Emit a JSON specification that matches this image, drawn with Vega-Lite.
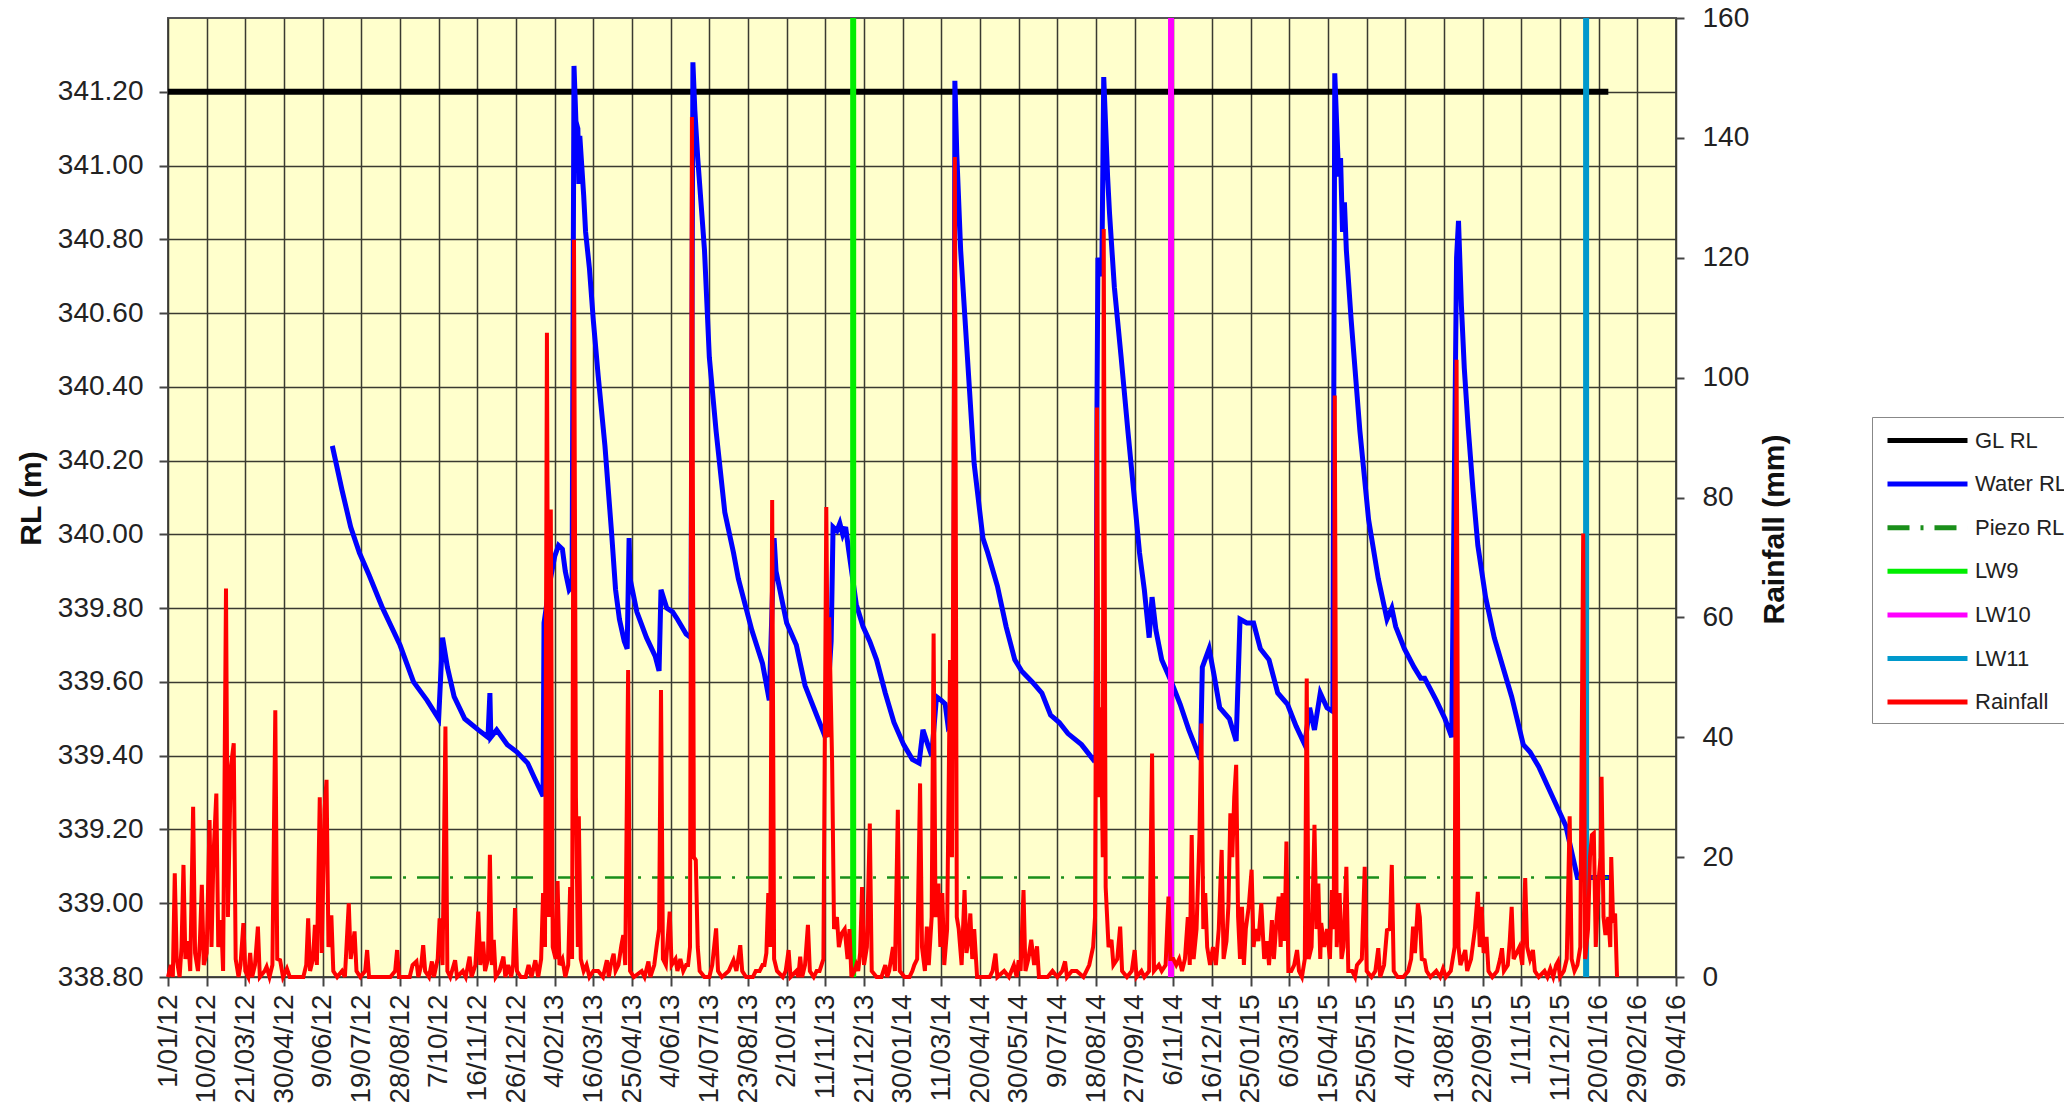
{
  "$schema": "https://vega.github.io/schema/vega-lite/v6.json",
  "width": 1508,
  "height": 959,
  "autosize": {"type": "none"},
  "padding": {"left": 168, "top": 18, "right": 388, "bottom": 135},
  "background": "#FFFFFF",
  "config": {
    "view": {"fill": "#FFFFCC", "stroke": "#555555", "strokeWidth": 2},
    "font": "Liberation Sans",
    "axis": {
      "labelFont": "Liberation Sans", "labelFontSize": 28, "labelColor": "#222222",
      "titleFont": "Liberation Sans", "titleFontSize": 30, "titleFontWeight": "bold", "titleColor": "#111111",
      "tickColor": "#444444", "tickWidth": 2, "domainColor": "#555555", "domainWidth": 2,
      "gridColor": "#3a3a30", "gridWidth": 1.5, "gridOpacity": 1
    }
  },
  "layer": [
    {
      "layer": [
        {
          "data": {"values": [{"day": 0, "rl": 341.2}, {"day": 1490, "rl": 341.2}]},
          "mark": {"type": "line", "strokeWidth": 6},
          "encoding": {
            "x": {"field": "day", "type": "quantitative", "title": null,
              "scale": {"domain": [0, 1560], "nice": false, "zero": false},
              "axis": {"values": [0,40,80,120,160,200,240,280,320,360,400,440,480,520,560,600,640,680,720,760,800,840,880,920,960,1000,1040,1080,1120,1160,1200,1240,1280,1320,1360,1400,1440,1480,1520,1560],
                "tickCount": 60,
                "labelExpr": "timeFormat(datetime(2012, 0, 1 + datum.value), '%-d/%m/%y')",
                "labelAngle": 270, "labelOverlap": false, "labelFlush": false, "labelBound": false,
                "grid": true, "tickSize": 9, "labelPadding": 8, "domain": false, "title": null}},
            "y": {"field": "rl", "type": "quantitative", "title": "RL (m)",
              "scale": {"domain": [338.8, 341.4], "nice": false, "zero": false},
              "axis": {"values": [338.8,339,339.2,339.4,339.6,339.8,340,340.2,340.4,340.6,340.8,341,341.2],
                "tickCount": 30,
                "format": ".2f", "grid": true, "tickSize": 9, "labelPadding": 16, "domain": false,
                "title": "RL (m)", "titleAngle": 270, "titleX": -137, "titleY": 480, "titleAlign": "center", "titleBaseline": "middle"}},
            "color": {"datum": "GL RL", "type": "nominal",
              "scale": {"domain": ["GL RL","Water RL","Piezo RL","LW9","LW10","LW11","Rainfall"], "range": ["#000000","#0000FF","#1a8f1a","#00EE00","#FF00FF","#0099CC","#FF0000"]},
              "legend": {"title": null, "orient": "none", "legendX": 1704, "legendY": 399, "direction": "vertical", "fillColor": "#FFFFFF", "strokeColor": "#888888", "padding": 9, "symbolType": "M-0.667,0H6", "symbolSize": 576, "symbolStrokeWidth": 5, "labelFont": "Liberation Sans", "labelFontSize": 22, "labelColor": "#222222", "labelOffset": 65, "rowPadding": 17.6}}
          }
        },
        {
          "data": {"values": [
            {"day":170,"rl":340.24},{"day":180,"rl":340.12},{"day":189,"rl":340.02},{"day":198,"rl":339.95},{"day":208,"rl":339.89},{"day":222,"rl":339.80},{"day":240,"rl":339.70},{"day":254,"rl":339.60},{"day":268,"rl":339.55},{"day":280,"rl":339.50},{"day":284,"rl":339.72},{"day":289,"rl":339.64},{"day":296,"rl":339.56},{"day":307,"rl":339.50},{"day":321,"rl":339.47},{"day":331,"rl":339.45},{"day":333,"rl":339.57},{"day":334,"rl":339.45},{"day":340,"rl":339.47},{"day":351,"rl":339.43},{"day":361,"rl":339.41},{"day":372,"rl":339.38},{"day":379,"rl":339.34},{"day":388,"rl":339.29},{"day":389,"rl":339.76},{"day":395,"rl":339.87},{"day":400,"rl":339.94},{"day":404,"rl":339.97},{"day":408,"rl":339.96},{"day":411,"rl":339.90},{"day":415,"rl":339.85},{"day":418,"rl":339.86},{"day":420,"rl":341.27},{"day":422,"rl":341.12},{"day":424,"rl":341.10},{"day":425,"rl":340.95},{"day":426,"rl":341.08},{"day":428,"rl":341.00},{"day":430,"rl":340.92},{"day":432,"rl":340.82},{"day":436,"rl":340.72},{"day":440,"rl":340.58},{"day":445,"rl":340.43},{"day":452,"rl":340.24},{"day":459,"rl":340.00},{"day":463,"rl":339.85},{"day":467,"rl":339.77},{"day":472,"rl":339.71},{"day":475,"rl":339.69},{"day":477,"rl":339.99},{"day":478,"rl":339.88},{"day":485,"rl":339.79},{"day":495,"rl":339.72},{"day":504,"rl":339.67},{"day":508,"rl":339.63},{"day":510,"rl":339.85},{"day":516,"rl":339.80},{"day":522,"rl":339.79},{"day":527,"rl":339.77},{"day":536,"rl":339.73},{"day":541,"rl":339.72},{"day":543,"rl":341.28},{"day":545,"rl":341.15},{"day":548,"rl":341.02},{"day":555,"rl":340.77},{"day":560,"rl":340.48},{"day":567,"rl":340.28},{"day":576,"rl":340.06},{"day":585,"rl":339.95},{"day":590,"rl":339.88},{"day":604,"rl":339.74},{"day":615,"rl":339.65},{"day":622,"rl":339.55},{"day":627,"rl":339.99},{"day":629,"rl":339.90},{"day":640,"rl":339.76},{"day":650,"rl":339.70},{"day":659,"rl":339.59},{"day":668,"rl":339.53},{"day":677,"rl":339.47},{"day":680,"rl":339.45},{"day":686,"rl":339.71},{"day":688,"rl":340.02},{"day":692,"rl":340.01},{"day":695,"rl":340.03},{"day":698,"rl":340.00},{"day":701,"rl":340.02},{"day":704,"rl":339.96},{"day":712,"rl":339.81},{"day":719,"rl":339.75},{"day":726,"rl":339.71},{"day":733,"rl":339.66},{"day":742,"rl":339.57},{"day":751,"rl":339.49},{"day":761,"rl":339.43},{"day":770,"rl":339.39},{"day":777,"rl":339.38},{"day":781,"rl":339.47},{"day":786,"rl":339.43},{"day":790,"rl":339.40},{"day":795,"rl":339.56},{"day":800,"rl":339.55},{"day":804,"rl":339.54},{"day":807,"rl":339.48},{"day":813,"rl":339.50},{"day":814,"rl":341.23},{"day":816,"rl":341.03},{"day":820,"rl":340.77},{"day":827,"rl":340.48},{"day":834,"rl":340.19},{"day":843,"rl":339.99},{"day":848,"rl":339.95},{"day":858,"rl":339.86},{"day":867,"rl":339.75},{"day":876,"rl":339.66},{"day":883,"rl":339.63},{"day":894,"rl":339.60},{"day":904,"rl":339.57},{"day":913,"rl":339.51},{"day":922,"rl":339.49},{"day":931,"rl":339.46},{"day":945,"rl":339.43},{"day":957,"rl":339.39},{"day":960,"rl":339.40},{"day":961,"rl":340.34},{"day":962,"rl":340.75},{"day":966,"rl":340.70},{"day":968,"rl":341.24},{"day":972,"rl":340.97},{"day":974,"rl":340.87},{"day":979,"rl":340.67},{"day":986,"rl":340.48},{"day":993,"rl":340.28},{"day":1000,"rl":340.09},{"day":1005,"rl":339.95},{"day":1010,"rl":339.85},{"day":1015,"rl":339.72},{"day":1018,"rl":339.83},{"day":1022,"rl":339.74},{"day":1028,"rl":339.66},{"day":1038,"rl":339.60},{"day":1047,"rl":339.54},{"day":1056,"rl":339.47},{"day":1068,"rl":339.39},{"day":1070,"rl":339.64},{"day":1077,"rl":339.69},{"day":1082,"rl":339.62},{"day":1088,"rl":339.53},{"day":1098,"rl":339.50},{"day":1105,"rl":339.44},{"day":1109,"rl":339.77},{"day":1116,"rl":339.76},{"day":1123,"rl":339.76},{"day":1130,"rl":339.69},{"day":1139,"rl":339.66},{"day":1148,"rl":339.57},{"day":1158,"rl":339.54},{"day":1167,"rl":339.48},{"day":1176,"rl":339.43},{"day":1181,"rl":339.53},{"day":1186,"rl":339.47},{"day":1192,"rl":339.57},{"day":1199,"rl":339.53},{"day":1205,"rl":339.52},{"day":1206,"rl":340.37},{"day":1207,"rl":341.25},{"day":1211,"rl":340.97},{"day":1213,"rl":341.02},{"day":1215,"rl":340.82},{"day":1217,"rl":340.90},{"day":1219,"rl":340.77},{"day":1224,"rl":340.58},{"day":1233,"rl":340.28},{"day":1242,"rl":340.04},{"day":1252,"rl":339.88},{"day":1261,"rl":339.77},{"day":1266,"rl":339.80},{"day":1270,"rl":339.75},{"day":1279,"rl":339.69},{"day":1289,"rl":339.64},{"day":1296,"rl":339.61},{"day":1300,"rl":339.61},{"day":1312,"rl":339.55},{"day":1321,"rl":339.50},{"day":1328,"rl":339.45},{"day":1333,"rl":340.75},{"day":1335,"rl":340.85},{"day":1338,"rl":340.62},{"day":1341,"rl":340.45},{"day":1345,"rl":340.29},{"day":1350,"rl":340.12},{"day":1355,"rl":339.97},{"day":1363,"rl":339.83},{"day":1372,"rl":339.72},{"day":1381,"rl":339.64},{"day":1390,"rl":339.56},{"day":1402,"rl":339.43},{"day":1409,"rl":339.41},{"day":1418,"rl":339.37},{"day":1432,"rl":339.29},{"day":1446,"rl":339.21},{"day":1458,"rl":339.07},{"day":1475,"rl":339.07},{"day":1494,"rl":339.07}
          ]},
          "mark": {"type": "line", "strokeWidth": 5},
          "encoding": {
            "x": {"field": "day", "type": "quantitative", "title": null, "scale": {"domain": [0, 1560], "nice": false, "zero": false}},
            "y": {"field": "rl", "type": "quantitative", "title": "RL (m)", "scale": {"domain": [338.8, 341.4], "nice": false, "zero": false}},
            "color": {"datum": "Water RL", "type": "nominal",
              "scale": {"domain": ["GL RL","Water RL","Piezo RL","LW9","LW10","LW11","Rainfall"], "range": ["#000000","#0000FF","#1a8f1a","#00EE00","#FF00FF","#0099CC","#FF0000"]}}
          }
        },
        {
          "data": {"values": [{"day": 209, "rl": 339.07}, {"day": 1490, "rl": 339.07}]},
          "mark": {"type": "line", "strokeWidth": 2.5},
          "encoding": {
            "x": {"field": "day", "type": "quantitative", "title": null, "scale": {"domain": [0, 1560], "nice": false, "zero": false}},
            "y": {"field": "rl", "type": "quantitative", "title": "RL (m)", "scale": {"domain": [338.8, 341.4], "nice": false, "zero": false}},
            "color": {"datum": "Piezo RL", "type": "nominal",
              "scale": {"domain": ["GL RL","Water RL","Piezo RL","LW9","LW10","LW11","Rainfall"], "range": ["#000000","#0000FF","#1a8f1a","#00EE00","#FF00FF","#0099CC","#FF0000"]}},
            "strokeDash": {"datum": "Piezo RL", "type": "nominal",
              "scale": {"domain": ["GL RL","Water RL","Piezo RL","LW9","LW10","LW11","Rainfall"], "range": [[1,0],[1,0],[22,11,3,11],[1,0],[1,0],[1,0],[1,0]]},
              "legend": {"title": null, "orient": "none", "legendX": 1704, "legendY": 399, "direction": "vertical", "fillColor": "#FFFFFF", "strokeColor": "#888888", "padding": 9, "symbolType": "M-0.667,0H6", "symbolSize": 576, "symbolStrokeWidth": 5, "labelFont": "Liberation Sans", "labelFontSize": 22, "labelColor": "#222222", "labelOffset": 65, "rowPadding": 17.6}}
          }
        },
        {
          "data": {"values": [{"day": 708.8}]},
          "mark": {"type": "rule", "strokeWidth": 6},
          "encoding": {
            "x": {"field": "day", "type": "quantitative", "title": null, "scale": {"domain": [0, 1560], "nice": false, "zero": false}},
            "color": {"datum": "LW9", "type": "nominal",
              "scale": {"domain": ["GL RL","Water RL","Piezo RL","LW9","LW10","LW11","Rainfall"], "range": ["#000000","#0000FF","#1a8f1a","#00EE00","#FF00FF","#0099CC","#FF0000"]}}
          }
        },
        {
          "data": {"values": [{"day": 1037.6}]},
          "mark": {"type": "rule", "strokeWidth": 6},
          "encoding": {
            "x": {"field": "day", "type": "quantitative", "title": null, "scale": {"domain": [0, 1560], "nice": false, "zero": false}},
            "color": {"datum": "LW10", "type": "nominal",
              "scale": {"domain": ["GL RL","Water RL","Piezo RL","LW9","LW10","LW11","Rainfall"], "range": ["#000000","#0000FF","#1a8f1a","#00EE00","#FF00FF","#0099CC","#FF0000"]}}
          }
        },
        {
          "data": {"values": [{"day": 1467}]},
          "mark": {"type": "rule", "strokeWidth": 6},
          "encoding": {
            "x": {"field": "day", "type": "quantitative", "title": null, "scale": {"domain": [0, 1560], "nice": false, "zero": false}},
            "color": {"datum": "LW11", "type": "nominal",
              "scale": {"domain": ["GL RL","Water RL","Piezo RL","LW9","LW10","LW11","Rainfall"], "range": ["#000000","#0000FF","#1a8f1a","#00EE00","#FF00FF","#0099CC","#FF0000"]}}
          }
        }
      ]
    },
    {
      "data": {"values": [
        {"day":0,"mm":0},{"day":3,"mm":2},{"day":5,"mm":0},{"day":7,"mm":17.3},{"day":9,"mm":3},{"day":12,"mm":0},{"day":14,"mm":5},{"day":16,"mm":18.7},{"day":18,"mm":3},{"day":21,"mm":6},{"day":23,"mm":1},{"day":26,"mm":28.4},{"day":28,"mm":4},{"day":31,"mm":1},{"day":33,"mm":6},{"day":35,"mm":15.4},{"day":37,"mm":2},{"day":40,"mm":4},{"day":43,"mm":26.2},{"day":45,"mm":5},{"day":47,"mm":20},{"day":50,"mm":30.6},{"day":52,"mm":5},{"day":55,"mm":9.5},{"day":57,"mm":1},{"day":60,"mm":64.8},{"day":62,"mm":10},{"day":65,"mm":35},{"day":68,"mm":39},{"day":70,"mm":3},{"day":73,"mm":0},{"day":75,"mm":2},{"day":78,"mm":9},{"day":80,"mm":1},{"day":83,"mm":0},{"day":85,"mm":4},{"day":87,"mm":0},{"day":90,"mm":2},{"day":93,"mm":8.4},{"day":95,"mm":0},{"day":100,"mm":1},{"day":102,"mm":1.7},{"day":105,"mm":0},{"day":108,"mm":2},{"day":111,"mm":44.5},{"day":113,"mm":3},{"day":116,"mm":2.8},{"day":119,"mm":0},{"day":123,"mm":1.4},{"day":126,"mm":0},{"day":140,"mm":0},{"day":143,"mm":2},{"day":145,"mm":9.8},{"day":147,"mm":1},{"day":150,"mm":3},{"day":152,"mm":8.7},{"day":154,"mm":2},{"day":157,"mm":30},{"day":159,"mm":4},{"day":162,"mm":28},{"day":164,"mm":32.9},{"day":166,"mm":5},{"day":169,"mm":10.3},{"day":171,"mm":1},{"day":175,"mm":0},{"day":180,"mm":1},{"day":183,"mm":0},{"day":187,"mm":12.3},{"day":189,"mm":3},{"day":193,"mm":7.6},{"day":195,"mm":1},{"day":199,"mm":0},{"day":204,"mm":1},{"day":206,"mm":4.5},{"day":208,"mm":0},{"day":215,"mm":0},{"day":230,"mm":0},{"day":235,"mm":1},{"day":237,"mm":4.5},{"day":239,"mm":0},{"day":250,"mm":0},{"day":253,"mm":2},{"day":257,"mm":2.6},{"day":259,"mm":0},{"day":262,"mm":2},{"day":264,"mm":5.3},{"day":266,"mm":1},{"day":270,"mm":0},{"day":273,"mm":2.6},{"day":275,"mm":0},{"day":279,"mm":3},{"day":281,"mm":9.8},{"day":284,"mm":2},{"day":287,"mm":41.8},{"day":289,"mm":1},{"day":292,"mm":0},{"day":297,"mm":2.8},{"day":299,"mm":0},{"day":305,"mm":1},{"day":308,"mm":0},{"day":312,"mm":3.4},{"day":314,"mm":0},{"day":318,"mm":2},{"day":321,"mm":10.9},{"day":323,"mm":2},{"day":326,"mm":5.9},{"day":328,"mm":1},{"day":331,"mm":3},{"day":333,"mm":20.4},{"day":335,"mm":2},{"day":337,"mm":6.2},{"day":339,"mm":0},{"day":343,"mm":1},{"day":347,"mm":3.4},{"day":349,"mm":0},{"day":352,"mm":2},{"day":355,"mm":0},{"day":357,"mm":2},{"day":359,"mm":11.5},{"day":361,"mm":1},{"day":365,"mm":0},{"day":370,"mm":0},{"day":373,"mm":2},{"day":376,"mm":0},{"day":380,"mm":2.8},{"day":383,"mm":0},{"day":386,"mm":3},{"day":388,"mm":14},{"day":390,"mm":5},{"day":392,"mm":107.5},{"day":394,"mm":10},{"day":396,"mm":78},{"day":398,"mm":5},{"day":401,"mm":3},{"day":403,"mm":16},{"day":405,"mm":2},{"day":408,"mm":3},{"day":411,"mm":0},{"day":414,"mm":2},{"day":416,"mm":15},{"day":418,"mm":3},{"day":420,"mm":123},{"day":422,"mm":30},{"day":424,"mm":5},{"day":425,"mm":26.8},{"day":427,"mm":3},{"day":430,"mm":1},{"day":433,"mm":2},{"day":436,"mm":0},{"day":440,"mm":1},{"day":445,"mm":1},{"day":450,"mm":0},{"day":454,"mm":2.8},{"day":456,"mm":0},{"day":458,"mm":2},{"day":461,"mm":3.9},{"day":463,"mm":1},{"day":466,"mm":2},{"day":469,"mm":5.3},{"day":471,"mm":7},{"day":473,"mm":2},{"day":476,"mm":51.2},{"day":478,"mm":1},{"day":482,"mm":0},{"day":490,"mm":1},{"day":493,"mm":0},{"day":497,"mm":2.6},{"day":499,"mm":0},{"day":503,"mm":2},{"day":506,"mm":5.8},{"day":508,"mm":8},{"day":510,"mm":47.9},{"day":512,"mm":3},{"day":515,"mm":2},{"day":519,"mm":10.9},{"day":521,"mm":2},{"day":525,"mm":3},{"day":527,"mm":1},{"day":530,"mm":3},{"day":533,"mm":1},{"day":536,"mm":2},{"day":538,"mm":2},{"day":540,"mm":5},{"day":542,"mm":143.5},{"day":544,"mm":20},{"day":546,"mm":19.5},{"day":548,"mm":5},{"day":550,"mm":1},{"day":555,"mm":0},{"day":560,"mm":0},{"day":563,"mm":2},{"day":567,"mm":8.1},{"day":569,"mm":1},{"day":573,"mm":0},{"day":580,"mm":1},{"day":585,"mm":2.8},{"day":588,"mm":1},{"day":592,"mm":5.3},{"day":594,"mm":1},{"day":598,"mm":0},{"day":605,"mm":0},{"day":608,"mm":1},{"day":612,"mm":1},{"day":615,"mm":2},{"day":617,"mm":2},{"day":619,"mm":4},{"day":621,"mm":14},{"day":623,"mm":5},{"day":625,"mm":79.6},{"day":627,"mm":3},{"day":630,"mm":1},{"day":636,"mm":0},{"day":639,"mm":1},{"day":642,"mm":4.5},{"day":644,"mm":0},{"day":650,"mm":1},{"day":652,"mm":0},{"day":654,"mm":3.4},{"day":656,"mm":0},{"day":659,"mm":2},{"day":662,"mm":8.7},{"day":664,"mm":1},{"day":668,"mm":0},{"day":671,"mm":1},{"day":674,"mm":1},{"day":676,"mm":2},{"day":678,"mm":3},{"day":681,"mm":78.4},{"day":683,"mm":40},{"day":684,"mm":60},{"day":687,"mm":36},{"day":689,"mm":8},{"day":692,"mm":10},{"day":694,"mm":5},{"day":697,"mm":7.3},{"day":700,"mm":8},{"day":703,"mm":3},{"day":705,"mm":8},{"day":707,"mm":0},{"day":710,"mm":1},{"day":712,"mm":2},{"day":714,"mm":1},{"day":716,"mm":4},{"day":718,"mm":15},{"day":720,"mm":2},{"day":723,"mm":5},{"day":726,"mm":25.6},{"day":728,"mm":1},{"day":733,"mm":0},{"day":738,"mm":0},{"day":742,"mm":2},{"day":744,"mm":0},{"day":746,"mm":1},{"day":750,"mm":5},{"day":752,"mm":1},{"day":755,"mm":27.9},{"day":757,"mm":1},{"day":762,"mm":0},{"day":767,"mm":0},{"day":770,"mm":1},{"day":772,"mm":2},{"day":775,"mm":3},{"day":778,"mm":32.3},{"day":780,"mm":5},{"day":783,"mm":1},{"day":785,"mm":8.4},{"day":787,"mm":2},{"day":790,"mm":10},{"day":792,"mm":57.3},{"day":794,"mm":10},{"day":797,"mm":15.6},{"day":799,"mm":5},{"day":801,"mm":14},{"day":803,"mm":2},{"day":806,"mm":8},{"day":809,"mm":52.9},{"day":811,"mm":20},{"day":814,"mm":136.8},{"day":816,"mm":10},{"day":818,"mm":8},{"day":821,"mm":2},{"day":824,"mm":14.5},{"day":826,"mm":4},{"day":828,"mm":6},{"day":830,"mm":10.6},{"day":832,"mm":3},{"day":834,"mm":8},{"day":837,"mm":0},{"day":845,"mm":0},{"day":850,"mm":0},{"day":853,"mm":1},{"day":856,"mm":3.9},{"day":858,"mm":0},{"day":865,"mm":1},{"day":870,"mm":0},{"day":875,"mm":2},{"day":878,"mm":0},{"day":880,"mm":2.8},{"day":882,"mm":1},{"day":885,"mm":14.5},{"day":887,"mm":1},{"day":890,"mm":3},{"day":893,"mm":6.2},{"day":896,"mm":2},{"day":899,"mm":5.1},{"day":901,"mm":0},{"day":910,"mm":0},{"day":915,"mm":1},{"day":920,"mm":0},{"day":925,"mm":1},{"day":928,"mm":2.6},{"day":930,"mm":0},{"day":935,"mm":1},{"day":940,"mm":1},{"day":947,"mm":0},{"day":950,"mm":1},{"day":953,"mm":2},{"day":957,"mm":5},{"day":959,"mm":10},{"day":961,"mm":95},{"day":963,"mm":30},{"day":965,"mm":45},{"day":967,"mm":20},{"day":968,"mm":124.8},{"day":970,"mm":15},{"day":973,"mm":5},{"day":976,"mm":6.2},{"day":978,"mm":2},{"day":982,"mm":3},{"day":985,"mm":8.4},{"day":987,"mm":1},{"day":992,"mm":0},{"day":997,"mm":1},{"day":1000,"mm":4.5},{"day":1002,"mm":0},{"day":1007,"mm":1},{"day":1010,"mm":0},{"day":1015,"mm":1},{"day":1018,"mm":37.3},{"day":1020,"mm":1},{"day":1025,"mm":2},{"day":1028,"mm":1},{"day":1032,"mm":2},{"day":1035,"mm":13.4},{"day":1037,"mm":3},{"day":1040,"mm":3},{"day":1043,"mm":2},{"day":1046,"mm":3},{"day":1049,"mm":1},{"day":1052,"mm":3},{"day":1055,"mm":10},{"day":1057,"mm":2},{"day":1059,"mm":23.7},{"day":1061,"mm":3},{"day":1064,"mm":8},{"day":1067,"mm":23.4},{"day":1069,"mm":42.3},{"day":1071,"mm":8},{"day":1073,"mm":14},{"day":1075,"mm":5},{"day":1078,"mm":2},{"day":1081,"mm":5},{"day":1084,"mm":2},{"day":1087,"mm":8},{"day":1090,"mm":21.2},{"day":1092,"mm":3},{"day":1095,"mm":6},{"day":1097,"mm":12},{"day":1099,"mm":27.3},{"day":1101,"mm":20},{"day":1103,"mm":30},{"day":1105,"mm":35.4},{"day":1107,"mm":10},{"day":1109,"mm":3},{"day":1111,"mm":11.7},{"day":1113,"mm":2},{"day":1115,"mm":8},{"day":1118,"mm":11.7},{"day":1121,"mm":17.9},{"day":1123,"mm":5},{"day":1125,"mm":8},{"day":1128,"mm":6},{"day":1131,"mm":12.3},{"day":1134,"mm":3},{"day":1137,"mm":6},{"day":1139,"mm":2},{"day":1142,"mm":9.5},{"day":1144,"mm":3},{"day":1147,"mm":10},{"day":1149,"mm":13.4},{"day":1151,"mm":5},{"day":1153,"mm":14},{"day":1155,"mm":6},{"day":1157,"mm":22.6},{"day":1159,"mm":1},{"day":1162,"mm":1},{"day":1165,"mm":2},{"day":1168,"mm":4.5},{"day":1170,"mm":1},{"day":1173,"mm":0},{"day":1176,"mm":3},{"day":1178,"mm":49.8},{"day":1180,"mm":3},{"day":1183,"mm":5},{"day":1186,"mm":25.4},{"day":1188,"mm":8},{"day":1190,"mm":15.6},{"day":1192,"mm":3},{"day":1193,"mm":9},{"day":1196,"mm":5},{"day":1199,"mm":8},{"day":1202,"mm":3},{"day":1204,"mm":14.5},{"day":1206,"mm":8},{"day":1207,"mm":97},{"day":1209,"mm":5},{"day":1212,"mm":14},{"day":1214,"mm":3},{"day":1216,"mm":5},{"day":1219,"mm":18.4},{"day":1221,"mm":1},{"day":1225,"mm":1},{"day":1228,"mm":0},{"day":1230,"mm":2},{"day":1235,"mm":3},{"day":1238,"mm":18.4},{"day":1240,"mm":1},{"day":1245,"mm":0},{"day":1249,"mm":1},{"day":1252,"mm":4.8},{"day":1254,"mm":0},{"day":1258,"mm":2},{"day":1261,"mm":7.8},{"day":1264,"mm":8},{"day":1266,"mm":18.7},{"day":1268,"mm":1},{"day":1272,"mm":0},{"day":1278,"mm":0},{"day":1283,"mm":1},{"day":1286,"mm":3},{"day":1288,"mm":8.4},{"day":1290,"mm":4},{"day":1293,"mm":12.3},{"day":1295,"mm":10},{"day":1297,"mm":3},{"day":1300,"mm":2.8},{"day":1302,"mm":1},{"day":1306,"mm":0},{"day":1312,"mm":1},{"day":1316,"mm":0},{"day":1319,"mm":1.4},{"day":1322,"mm":0},{"day":1327,"mm":1},{"day":1331,"mm":5},{"day":1333,"mm":103},{"day":1335,"mm":5},{"day":1337,"mm":2},{"day":1339,"mm":3},{"day":1342,"mm":4.5},{"day":1344,"mm":1},{"day":1348,"mm":3},{"day":1352,"mm":8},{"day":1355,"mm":14.2},{"day":1357,"mm":5},{"day":1359,"mm":11.7},{"day":1361,"mm":4},{"day":1364,"mm":6.7},{"day":1366,"mm":1},{"day":1370,"mm":0},{"day":1375,"mm":1},{"day":1378,"mm":3},{"day":1380,"mm":4.8},{"day":1382,"mm":1},{"day":1386,"mm":2},{"day":1388,"mm":6},{"day":1390,"mm":11.7},{"day":1392,"mm":3},{"day":1395,"mm":4},{"day":1398,"mm":5},{"day":1401,"mm":2},{"day":1404,"mm":16.5},{"day":1406,"mm":5},{"day":1409,"mm":3},{"day":1412,"mm":4.5},{"day":1414,"mm":1},{"day":1418,"mm":0},{"day":1424,"mm":1},{"day":1427,"mm":0},{"day":1430,"mm":1.4},{"day":1433,"mm":0},{"day":1436,"mm":2},{"day":1438,"mm":2.6},{"day":1440,"mm":0},{"day":1444,"mm":1},{"day":1447,"mm":3},{"day":1450,"mm":26.8},{"day":1452,"mm":3},{"day":1455,"mm":1},{"day":1458,"mm":2},{"day":1461,"mm":5},{"day":1464,"mm":74},{"day":1466,"mm":3},{"day":1469,"mm":8},{"day":1471,"mm":20},{"day":1473,"mm":23.7},{"day":1475,"mm":24},{"day":1477,"mm":5},{"day":1480,"mm":16.2},{"day":1482,"mm":20},{"day":1483,"mm":33.4},{"day":1485,"mm":10},{"day":1487,"mm":7},{"day":1490,"mm":10},{"day":1492,"mm":5},{"day":1493,"mm":20},{"day":1495,"mm":9},{"day":1497,"mm":10.6},{"day":1499,"mm":0}
      ]},
      "mark": {"type": "line", "strokeWidth": 4},
      "encoding": {
        "x": {"field": "day", "type": "quantitative", "title": null, "scale": {"domain": [0, 1560], "nice": false, "zero": false}},
        "y": {"field": "mm", "type": "quantitative",
          "scale": {"domain": [0, 160], "nice": false},
          "axis": {"orient": "right", "values": [0,20,40,60,80,100,120,140,160], "tickCount": 20, "grid": false, "tickSize": 8, "labelPadding": 18, "domain": false,
            "title": "Rainfall (mm)", "titleAngle": 270, "titleX": 98, "titleY": 511, "titleAlign": "center", "titleBaseline": "middle"}},
        "color": {"datum": "Rainfall", "type": "nominal",
          "scale": {"domain": ["GL RL","Water RL","Piezo RL","LW9","LW10","LW11","Rainfall"], "range": ["#000000","#0000FF","#1a8f1a","#00EE00","#FF00FF","#0099CC","#FF0000"]}}
      }
    }
  ],
  "resolve": {"scale": {"y": "independent"}}
}
